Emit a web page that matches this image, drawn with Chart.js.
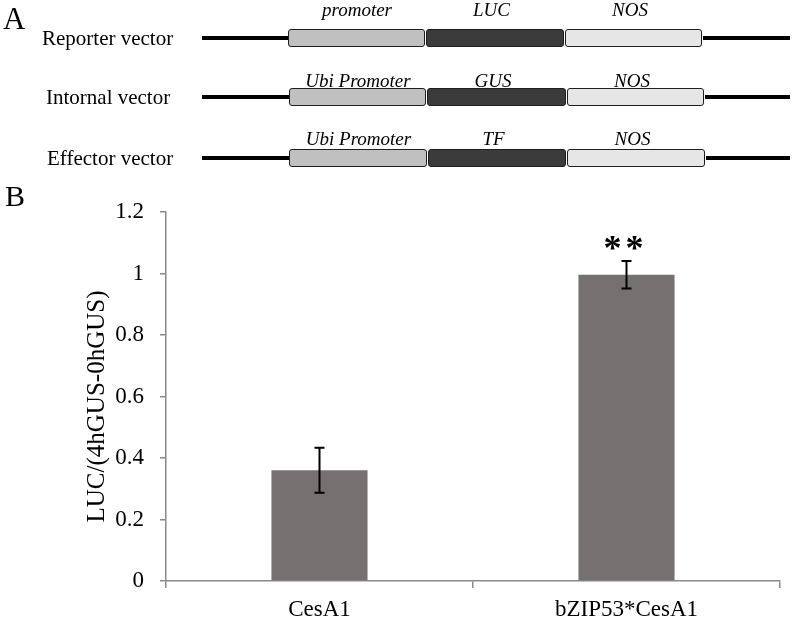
<!DOCTYPE html>
<html>
<head>
<meta charset="utf-8">
<script src="https://cdn.jsdelivr.net/npm/chart.js@4.4.1/dist/chart.umd.min.js"></script>
<style>
  html, body { margin: 0; padding: 0; background: #fff; }
  #wrap { position: relative; width: 796px; height: 620px; overflow: hidden; font-family: "Liberation Serif", "Times New Roman", serif; }
  #c { position: absolute; left: 0; top: 0; }
  .t { position: absolute; white-space: nowrap; color: #000; line-height: 1; }
  .it { font-style: italic; font-size: 19px; transform: translateX(-50%); }
  .lbl { font-size: 21px; transform: translateY(-50%); }
  .ln { position: absolute; height: 4px; background: #000; }
  .bx { position: absolute; height: 16px; border: 1.5px solid #1e1e1e; border-radius: 3px; box-sizing: content-box; }
</style>
</head>
<body>
<div id="wrap">
  <canvas id="c" width="796" height="620"></canvas>
  <div id="diagram"></div>
</div>
<script>
// ---- Panel A: vector diagram content ----
const vectorNames = ["Reporter vector", "Intornal vector", "Effector vector"];
const promoterLabels = ["promoter", "Ubi Promoter", "Ubi Promoter"];
const geneLabels = ["LUC", "GUS", "TF"];
const terminatorLabels = ["NOS", "NOS", "NOS"];

// ---- Panel B: bar chart data ----
const categories = ["CesA1", "bZIP53*CesA1"];
const meanValues = [0.36, 0.996];
const errorValues = [0.073, 0.045];
const significance = ["", "**"];
const yTickValues = [0, 0.2, 0.4, 0.6, 0.8, 1, 1.2];
const yAxisTitle = "LUC/(4hGUS-0hGUS)";

// build diagram (layout only)
(function () {
  const d = document.getElementById('diagram');
  const rowY = [38, 97, 158];
  const labelX = [42, 46, 47];
  const segX = [[288, 426, 565, 703], [289, 427, 567, 705], [289, 428, 567, 706]];
  const colors = ["#c0c0c0", "#3b3b3b", "#e6e6e6"];
  const italicY = [0, 71, 129];
  let html = '';
  html += '<div class="t" style="left:3px;top:3px;font-size:31px;">A</div>';
  html += '<div class="t" style="left:5px;top:181px;font-size:30px;">B</div>';
  for (let r = 0; r < 3; r++) {
    const y = rowY[r];
    const s = segX[r];
    html += `<div class="t lbl" style="left:${labelX[r]}px;top:${y}px;">${vectorNames[r]}</div>`;
    html += `<div class="ln" style="left:202px;width:${s[0] - 200}px;top:${y - 2}px;"></div>`;
    html += `<div class="ln" style="left:${s[3]}px;width:${790 - s[3]}px;top:${y - 2}px;"></div>`;
    const labs = [promoterLabels[r], geneLabels[r], terminatorLabels[r]];
    for (let k = 0; k < 3; k++) {
      const w = s[k + 1] - s[k] - 3;
      html += `<div class="bx" style="left:${s[k]}px;top:${y - 9}px;width:${w}px;background:${colors[k]};"></div>`;
      const cx = (s[k] + s[k + 1]) / 2 - (k === 0 ? 0 : 4);
      html += `<div class="t it" style="left:${cx}px;top:${italicY[r]}px;">${labs[k]}</div>`;
    }
  }
  d.innerHTML = html;
})();

const axisColor = '#8a8a8a';
const fontFamily = '"Liberation Serif", "Times New Roman", serif';

const errorBarPlugin = {
  id: 'errorBars',
  afterDatasetsDraw(chart) {
    const ctx = chart.ctx;
    const meta = chart.getDatasetMeta(0);
    const y = chart.scales.y;
    ctx.save();
    meta.data.forEach((bar, i) => {
      const x = bar.x;
      const top = y.getPixelForValue(meanValues[i] + errorValues[i]);
      const bot = y.getPixelForValue(meanValues[i] - errorValues[i]);
      ctx.strokeStyle = '#000';
      ctx.lineWidth = 2;
      ctx.beginPath();
      ctx.moveTo(x, top); ctx.lineTo(x, bot);
      ctx.moveTo(x - 5, top); ctx.lineTo(x + 5, top);
      ctx.moveTo(x - 5, bot); ctx.lineTo(x + 5, bot);
      ctx.stroke();
      if (significance[i]) {
        ctx.fillStyle = '#000';
        ctx.font = 'bold 36px ' + fontFamily;
        ctx.textAlign = 'center';
        ctx.textBaseline = 'alphabetic';
        const n = significance[i].length;
        for (let k = 0; k < n; k++) {
          const sx = x - 3 + (k - (n - 1) / 2) * 22;
          ctx.fillText(significance[i][k], sx, top - 1);
        }
      }
    });
    // y axis title, centred on the value range used in the reference
    ctx.fillStyle = '#000';
    ctx.font = '25px ' + fontFamily;
    ctx.textAlign = 'center';
    ctx.textBaseline = 'middle';
    ctx.translate(97, (y.top + y.bottom) / 2 + 10);
    ctx.rotate(-Math.PI / 2);
    ctx.fillText(yAxisTitle, 0, 0);
    ctx.restore();
  }
};

new Chart(document.getElementById('c'), {
  type: 'bar',
  data: {
    labels: categories,
    datasets: [{
      data: meanValues,
      backgroundColor: '#767170',
      borderWidth: 0,
      categoryPercentage: 1,
      barPercentage: 0.313
    }]
  },
  options: {
    responsive: false,
    animation: false,
    events: [],
    layout: { padding: { left: 0, top: 212, right: 16, bottom: 0 } },
    plugins: { legend: { display: false }, tooltip: { enabled: false } },
    scales: {
      x: {
        grid: { display: true, drawOnChartArea: false, drawTicks: true, tickLength: 7, color: axisColor, lineWidth: 1.5, offset: true },
        border: { display: true, color: axisColor, width: 1.5 },
        ticks: { color: '#000', font: { family: fontFamily, size: 23 }, padding: 8, maxRotation: 0 },
        afterFit(scale) { scale.height = 39; }
      },
      y: {
        min: 0, max: 1.2,
        afterBuildTicks(scale) { scale.ticks = yTickValues.map(v => ({ value: v })); },
        grid: { display: true, drawOnChartArea: false, drawTicks: true, tickLength: 6, color: axisColor, lineWidth: 1.5 },
        border: { display: true, color: axisColor, width: 1.5 },
        ticks: { color: '#000', font: { family: fontFamily, size: 23 }, padding: 16, callback: v => String(Math.round(v * 10) / 10) },
        afterFit(scale) { scale.width = 166; }
      }
    }
  },
  plugins: [errorBarPlugin]
});
</script>
</body>
</html>
